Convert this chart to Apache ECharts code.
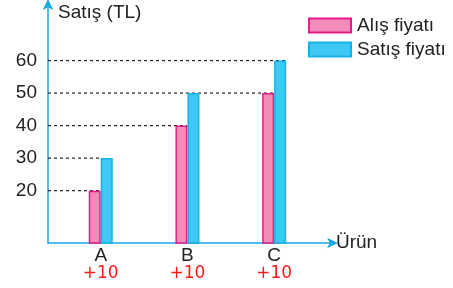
<!DOCTYPE html>
<html><head><meta charset="utf-8">
<script src="https://cdn.jsdelivr.net/npm/echarts@6/dist/echarts.min.js"></script>
<style>html,body{margin:0;padding:0;background:#fff}#c{width:453px;height:288px}</style>
</head><body><div id="c"></div>
<script>
var categories = ['A', 'B', 'C'];
var notes = ['+10', '+10', '+10'];
var alisFiyati = [20, 40, 50];
var satisFiyati = [30, 50, 60];
var yTicks = [20, 30, 40, 50, 60];
// guide lines: [value, category index, end at 'center' or 'right' of the pair]
var guideValues = [20, 30, 40, 50, 60];
var guideCats = [0, 0, 1, 2, 2];
var guideEnds = ['center', 'center', 'center', 'right', 'right'];

var axisBlue = '#1aa7e2';
var font = 'Liberation Sans, Arial, sans-serif';
var BW = 12;

var chart = echarts.init(document.getElementById('c'));
chart.setOption({
  animation: false,
  grid: { left: 48, right: 119, top: 3, bottom: 45, containLabel: false },
  legend: {
    orient: 'vertical', left: 308, top: 16, padding: 0,
    icon: 'rect',
    itemWidth: 42, itemHeight: 14, itemGap: 5,
    textStyle: { fontFamily: font, fontSize: 19, color: '#222', padding: [0, 0, 0, 1] },
    data: ['Alış fiyatı', 'Satış fiyatı']
  },
  xAxis: {
    type: 'value', min: 0.392, max: 3.69,
    name: 'Ürün', nameLocation: 'end', nameGap: 2,
    nameTextStyle: { fontFamily: font, fontSize: 19, color: '#222', verticalAlign: 'middle' },
    axisLine: { lineStyle: { color: axisBlue, width: 1.5 }, symbol: ['none', 'arrow'], symbolSize: [8, 11], symbolOffset: [0, 4] },
    axisTick: { show: false },
    splitLine: { show: false },
    axisLabel: {
      customValues: [1, 2, 3], margin: 4,
      fontFamily: font, fontSize: 19, color: '#222', lineHeight: 18,
      formatter: function (v) { var i = Math.round(v) - 1; return categories[i] + '\n{r|' + notes[i] + '}'; },
      rich: { r: { color: '#ff1a1a', fontFamily: 'DejaVu Sans', fontSize: 17, lineHeight: 18 } }
    }
  },
  yAxis: {
    type: 'value', min: 3.9, max: 77.7,
    name: 'Satış (TL)', nameLocation: 'end', nameGap: -10,
    nameTextStyle: { fontFamily: font, fontSize: 19, color: '#222', align: 'left', verticalAlign: 'middle', padding: [0, 0, 0, 10] },
    axisLine: { lineStyle: { color: axisBlue, width: 1.5 }, symbol: ['none', 'arrow'], symbolSize: [8, 11], symbolOffset: [0, 4] },
    axisTick: { show: false },
    splitLine: { show: false },
    axisLabel: { customValues: yTicks, margin: 11, fontFamily: font, fontSize: 19, color: '#222' }
  },
  series: [
    {
      type: 'custom', z: 1, silent: true,
      data: guideValues.map(function (v, i) { return [guideCats[i] + 1, v, guideEnds[i] === 'right' ? 1 : 0]; }),
      renderItem: function (params, api) {
        var p = api.coord([api.value(0), api.value(1)]);
        var x0 = params.coordSys.x;
        var x1 = p[0] + api.value(2) * BW;
        return { type: 'line', shape: { x1: x0, y1: p[1], x2: x1, y2: p[1] },
          style: { stroke: '#222', lineWidth: 1.2, lineDash: [3, 3] } };
      }
    },
    {
      name: 'Alış fiyatı', type: 'bar', barWidth: BW, barGap: '0%', z: 3,
      data: alisFiyati.map(function (v, i) { return [i + 1, v]; }),
      itemStyle: { color: '#f28cb8', borderColor: '#e8198b', borderWidth: 1.5 }
    },
    {
      name: 'Satış fiyatı', type: 'bar', barWidth: BW, barGap: '0%', z: 3,
      data: satisFiyati.map(function (v, i) { return [i + 1, v]; }),
      itemStyle: { color: '#40c8f5', borderColor: '#14b2ea', borderWidth: 1.5 }
    }
  ]
});
</script></body></html>
